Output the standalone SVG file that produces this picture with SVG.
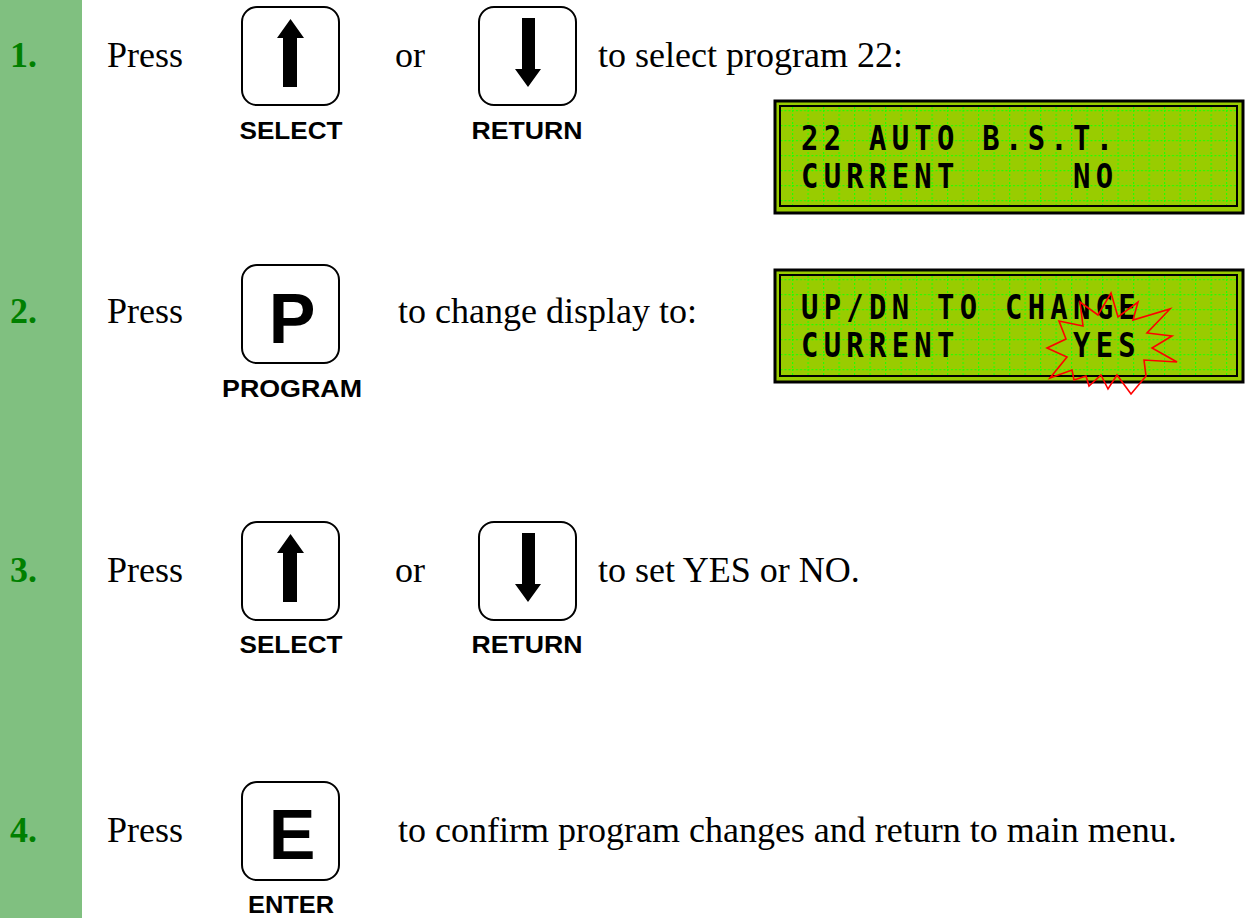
<svg xmlns="http://www.w3.org/2000/svg" width="1249" height="918" viewBox="0 0 1249 918">
<style>
.num{font-family:"Liberation Serif","Times New Roman",serif;font-weight:bold;font-size:36px;fill:#008000}
.txt{font-family:"Liberation Serif","Times New Roman",serif;font-size:36px;fill:#000}
.lbl{font-family:"Liberation Sans",Arial,sans-serif;font-weight:bold;font-size:24px;fill:#000;text-anchor:middle}
.key{fill:#fff;stroke:#000;stroke-width:2}
.big{font-family:"Liberation Sans",Arial,sans-serif;font-weight:bold;font-size:70px;fill:#000;text-anchor:middle}
.lcdo{fill:#99cc00;stroke:#000;stroke-width:3}
.lcdt{font-family:"DejaVu Sans Mono",monospace;font-weight:bold;font-size:34px;letter-spacing:6.2px;fill:#000}
.star{fill:none;stroke:#ff0000;stroke-width:1.6;stroke-linejoin:miter}
.gl{stroke:#22ff00;stroke-width:1.2;stroke-dasharray:2 2}
</style>
<defs>
<pattern id="grid1" patternUnits="userSpaceOnUse" x="792" y="110" width="15.5" height="15">
<line class="gl" x1="0.6" y1="0" x2="0.6" y2="15"/>
<line class="gl" x1="0" y1="0.6" x2="15.5" y2="0.6"/>
</pattern>
<pattern id="grid2" patternUnits="userSpaceOnUse" x="792" y="279" width="15.5" height="15">
<line class="gl" x1="0.6" y1="0" x2="0.6" y2="15"/>
<line class="gl" x1="0" y1="0.6" x2="15.5" y2="0.6"/>
</pattern>
<g id="keyUp">
<rect class="key" x="0" y="0" width="97" height="98" rx="15"/>
<polygon points="48.5,12 62,31 55,31 55,80 41,80 41,31 35,31" fill="#000"/>
</g>
<g id="keyDown">
<rect class="key" x="0" y="0" width="97" height="98" rx="15"/>
<polygon points="43,11 56,11 56,62 62,62 49,80 36,62 43,62" fill="#000"/>
</g>
</defs>

<rect id="sidebar" x="0" y="0" width="82" height="918" fill="#80c080"/>

<g id="step1">
<text class="num" x="10" y="67">1.</text>
<text class="txt" x="107" y="67">Press</text>
<g id="key-select-1"><use href="#keyUp" x="242" y="7"/><text class="lbl" x="291" y="139" textLength="103" lengthAdjust="spacingAndGlyphs">SELECT</text></g>
<text class="txt" x="395" y="67">or</text>
<g id="key-return-1"><use href="#keyDown" x="479" y="7"/><text class="lbl" x="527" y="139" textLength="111" lengthAdjust="spacingAndGlyphs">RETURN</text></g>
<text class="txt" x="598" y="67">to select program 22:</text>
</g>

<g id="lcd1">
<rect class="lcdo" x="775" y="101" width="468" height="112"/>
<rect x="780" y="106" width="457" height="100" fill="url(#grid1)" stroke="#000" stroke-width="2"/>
<g transform="translate(801,0) scale(0.85,1)">
<text class="lcdt" x="0" y="150">22 AUTO B.S.T.</text>
<text class="lcdt" x="0" y="188">CURRENT</text>
<text class="lcdt" x="320" y="188">NO</text>
</g>
</g>

<g id="step2">
<text class="num" x="10" y="323">2.</text>
<text class="txt" x="107" y="323">Press</text>
<g id="key-program"><rect class="key" x="242" y="265" width="97" height="98" rx="15"/><text class="big" x="292" y="343">P</text><text class="lbl" x="292" y="397" textLength="140" lengthAdjust="spacingAndGlyphs">PROGRAM</text></g>
<text class="txt" x="398" y="323">to change display to:</text>
</g>

<g id="lcd2">
<rect class="lcdo" x="775" y="270" width="468" height="112"/>
<rect x="780" y="275" width="457" height="101" fill="url(#grid2)" stroke="#000" stroke-width="2"/>
<g transform="translate(801,0) scale(0.85,1)">
<text class="lcdt" x="0" y="319">UP/DN TO CHANGE</text>
<text class="lcdt" x="0" y="357">CURRENT</text>
<text class="lcdt" x="320" y="357">YES</text>
</g>
<polygon class="star" points="1111,293 1118,317 1138,302 1133,320 1170,309 1147,333 1172,336 1152,348 1177,362 1144,360 1146,376 1131,394 1117,375 1108,389 1101,375 1089,386 1086,376 1074,380 1072,370 1050,378 1067,357 1047,348 1066,339 1059,321 1083,326 1080,302 1098,315"/>
</g>

<g id="step3">
<text class="num" x="10" y="582">3.</text>
<text class="txt" x="107" y="582">Press</text>
<g id="key-select-3"><use href="#keyUp" x="242" y="522"/><text class="lbl" x="291" y="653" textLength="103" lengthAdjust="spacingAndGlyphs">SELECT</text></g>
<text class="txt" x="395" y="582">or</text>
<g id="key-return-3"><use href="#keyDown" x="479" y="522"/><text class="lbl" x="527" y="653" textLength="111" lengthAdjust="spacingAndGlyphs">RETURN</text></g>
<text class="txt" x="598" y="582">to set YES or NO.</text>
</g>

<g id="step4">
<text class="num" x="10" y="842">4.</text>
<text class="txt" x="107" y="842">Press</text>
<g id="key-enter"><rect class="key" x="242" y="782" width="97" height="98" rx="15"/><text class="big" x="292" y="859">E</text><text class="lbl" x="291" y="913" textLength="86" lengthAdjust="spacingAndGlyphs">ENTER</text></g>
<text class="txt" x="398" y="842">to confirm program changes and return to main menu.</text>
</g>
</svg>
